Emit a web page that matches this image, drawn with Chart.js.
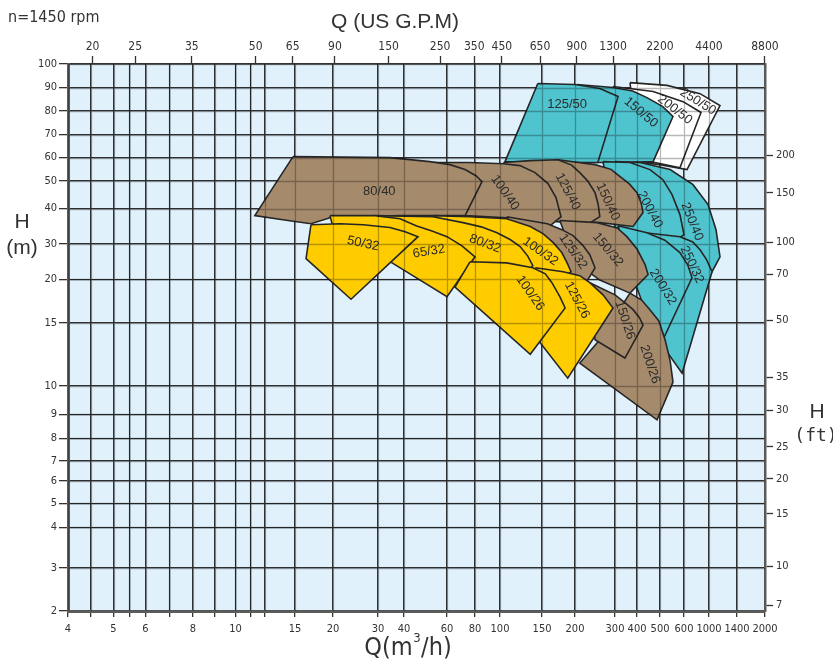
<!DOCTYPE html>
<html>
<head>
<meta charset="utf-8">
<title>Pump selection chart n=1450 rpm</title>
<script src="https://cdn.jsdelivr.net/npm/chart.js@4.4.1/dist/chart.umd.min.js"></script>
<style>
  html, body { margin: 0; padding: 0; background: #fff; }
  #wrap { width: 833px; height: 662px; }
</style>
</head>
<body>
<div id="wrap"><canvas id="chartPump" width="833" height="662"></canvas></div>
<script>
// Q axis (m3/h): grid stops of the printed paper and where each sits along the axis (0..1)
var qStops   = [4, 4.5, 5, 5.5, 6, 7, 8, 9, 10, 11, 12, 15, 20, 30, 40, 60, 80, 100, 150, 200, 300, 400, 500, 600, 1000, 1400, 2000];
var qStopPos = [0, .0324, .0653, .0882, .1112, .1456, .1793, .2109, .2403, .2618, .2826, .3257, .3802, .4448, .4821, .5438, .5839, .6198, .6801, .7274, .7848, .8164, .8494, .8838, .9197, .9598, 1];
var qLabels  = [4, 5, 6, 8, 10, 15, 20, 30, 40, 60, 80, 100, 150, 200, 300, 400, 500, 600, 1000, 1400, 2000];
var gpmLabels = [20, 25, 35, 50, 65, 90, 150, 250, 350, 450, 650, 900, 1300, 2200, 4400, 8800];

// H axis (m)
var hStops   = [2, 3, 4, 5, 6, 7, 8, 9, 10, 15, 20, 30, 40, 50, 60, 70, 80, 90, 100];
var hStopPos = [0, .0787, .1528, .1967, .2379, .2745, .3157, .3596, .4117, .5270, .6066, .6715, .7356, .7859, .8289, .8710, .9140, .9570, 1];
var ftLabels = [7, 10, 15, 20, 25, 30, 35, 50, 70, 100, 150, 200];

var GPM_PER_M3H = 4.4029;
var FT_PER_M = 3.2808;

// pump sizes, back to front
var models = ['250/50', '200/50', '150/50', '125/50',
              '250/40', '200/40', '150/40', '125/40', '100/40', '80/40',
              '250/32', '200/32', '150/32', '125/32', '100/32', '80/32', '65/32', '50/32',
              '200/26', '150/26', '125/26', '100/26'];
var family = ['w', 'w', 't', 't',
              't', 't', 'b', 'b', 'b', 'b',
              't', 't', 'b', 'b', 'y', 'y', 'y', 'y',
              'b', 'b', 'y', 'y'];

// working area of each pump, [Q m3/h, H m]
var outlines = [
  [[368,92.1],[529,90.9],[856,87.4],[1157,82.3],[648,54.9],[500,57],[413,57.9]],
  [[295,90.4],[470,88.3],[596,84],[872,79.4],[583,55.7],[478,57.9],[345,58.3]],
  [[205,91.3],[295,90],[380,88.5],[443,85.7],[510,82],[554,77.7],[470,58.3],[323,57.9],[237,57.9]],
  [[145,91.7],[200,91.3],[262,89.6],[314,86.2],[257,57.9],[162,57.9],[106,58.3]],
  [[300,58.3],[413,57.9],[542,54.9],[744,48.7],[984,41.5],[1100,34],[1157,26.3],[1043,22.1],[856,18.8],[583,29.7],[456,33.4],[345,35.4]],
  [[270,58.3],[368,57.9],[456,54.9],[512,50.6],[550,45.1],[583,38.3],[600,32.6],[521,28.9],[413,32.6],[300,34.6]],
  [[174,59.1],[250,57],[290,55],[323,51.9],[365,49],[400,45.8],[418,42],[426,38.9],[382,34.9],[262,36],[212,36.3]],
  [[104,57.9],[136,58.7],[174,59.1],[195,56.8],[212,53.6],[232,50],[250,45.8],[258,41.5],[262,37.7],[225,35.1],[174,36.3],[136,36.9]],
  [[53.5,57.9],[76,57.9],[104,57.4],[123.8,56.6],[141.7,53.6],[159,49.1],[171.2,44],[178.8,37.7],[162,35.1],[108,37.4],[73,38],[59,45.1]],
  [[14.8,60.4],[34.6,60],[52,58.3],[62.1,57],[72.9,54.9],[80.8,52.3],[85.6,49.8],[72.9,38],[38.5,38],[19.6,37.4],[17.1,35.7],[14.3,36.6],[11.3,38]],
  [[435,33.1],[583,32],[740,30.5],[856,28.3],[960,25.5],[1043,22.1],[592,11],[521,12.9],[478,17.6]],
  [[314,35.1],[443,33.1],[520,31],[583,27.5],[660,24],[728,20.4],[512,13.65],[435,16.5],[368,22.7]],
  [[177,36.6],[255,36],[310,34.5],[354,32],[400,28.5],[435,24.1],[448,21.3],[368,18.4],[262,19.9],[200,24.9]],
  [[108,37.7],[158,35.7],[180,34],[197,32.3],[220,29.5],[237,26.9],[250,23.2],[225,19.4],[177,19.9],[136,25.5]],
  [[53.5,38],[76,37.7],[108,37.1],[136,34.9],[152,32.8],[167,30.3],[180,27.5],[188,24.6],[194,22.1],[162,18.8],[124,19.9],[84,24.1]],
  [[29.3,38],[53.5,37.7],[71.4,36],[85,34.8],[97.6,33.1],[112,31.2],[124,29.2],[133,26.5],[139,23.8],[118,19.4],[84,18.8],[65.7,19.1],[47.4,28.3]],
  [[19.6,38],[29.3,38],[38.5,37.1],[45.6,35.1],[53,33.6],[60,32],[70.7,29.4],[80,26.3],[60,18],[35.4,24.6],[26,29.7],[20.4,32.6]],
  [[17.1,35.4],[21.6,35.7],[26.7,35.4],[34.6,34.6],[40.5,33.4],[46.5,32],[24,17.7],[16.45,25.8]],
  [[368,18.4],[420,17.6],[456,16.5],[495,15.2],[521,13.65],[542,12],[554,10.3],[487,8.77],[212,11.8],[262,13.65]],
  [[237,19.6],[300,18.2],[345,17.3],[382,16.5],[410,15.6],[426,14.8],[345,12.2],[250,13.65]],
  [[142,23.2],[182,22.1],[212,21],[237,19.6],[270,18.2],[295,16.7],[189,10.6],[148,13.4]],
  [[76.4,24.9],[108,24.6],[139,23.2],[155,21.5],[165,19.6],[177,18],[185,16.7],[136,12.5],[65.7,19.1]]
];

// where the size names sit, [Q, H], and their tilt in degrees
var labelAt = [
  [824,84],[562,80.6],[417,79.4],[188,82.8],
  [728,36.3],[456,39.7],[282,42.5],[189,46.2],[106,45.8],[30.5,46.2],
  [728,24.1],[512,19.1],[282,28.3],[197,27.8],[148,27.8],[88,30],[51.6,27.8],[26.7,30],
  [456,11.7],[345,15.3],[205,17.6],[136,18.4]
];
var labelAngle = [32, 38, 40, 0,
                  68, 62, 65, 62, 55, 0,
                  65, 58, 50, 55, 35, 20, -10, 12,
                  72, 72, 62, 55];

var colors = { b: '#a68a6c', y: '#ffcc00', t: '#4fc3ce', w: '#ffffff' };
var narrow = '"Liberation Sans Narrow", "DejaVu Sans Condensed", "Liberation Sans", sans-serif';

var axisTicks = {
  x: qStops.map(function (v) { return [v, qLabels.indexOf(v) >= 0 ? String(v) : '']; }),
  xTop: gpmLabels.map(function (g) { return [g / GPM_PER_M3H, String(g)]; }),
  y: hStops.map(function (v) { return [v, String(v)]; }),
  yRight: ftLabels.map(function (f) { return [f / FT_PER_M, String(f)]; })
};

// scale of the printed paper: piecewise between its grid stops
class StopScale extends Chart.Scale {
  stops() { return this.axis === 'x' ? [qStops, qStopPos] : [hStops, hStopPos]; }
  determineDataLimits() {
    var s = this.stops()[0];
    this.min = s[0];
    this.max = s[s.length - 1];
  }
  buildTicks() {
    return axisTicks[this.id].map(function (t) { return { value: t[0], text: t[1] }; });
  }
  generateTickLabels(ticks) {
    ticks.forEach(function (t) { t.label = t.text; });
  }
  getLabelForValue(v) { return String(v); }
  getPixelForValue(v) {
    if (v === null || v === undefined || isNaN(v)) return NaN;
    var sp = this.stops(), s = sp[0], p = sp[1];
    var i = 1;
    while (i < s.length - 1 && s[i] < v) i++;
    var f = p[i - 1] + (v - s[i - 1]) / (s[i] - s[i - 1]) * (p[i] - p[i - 1]);
    return this.getPixelForDecimal(f);
  }
  getValueForPixel(px) {
    var sp = this.stops(), s = sp[0], p = sp[1];
    var f = this.getDecimalForPixel(px);
    var i = 1;
    while (i < p.length - 1 && p[i] < f) i++;
    return s[i - 1] + (f - p[i - 1]) / (p[i] - p[i - 1]) * (s[i] - s[i - 1]);
  }
}
StopScale.id = 'stops';
StopScale.defaults = {};
Chart.register(StopScale);

var paper = {
  id: 'paper',
  beforeDraw: function (chart) {
    var a = chart.chartArea, ctx = chart.ctx;
    ctx.save();
    ctx.fillStyle = '#e0f1fc';
    ctx.fillRect(a.left, a.top, a.right - a.left, a.bottom - a.top);
    ctx.restore();
  },
  afterDatasetsDraw: function (chart) {
    var a = chart.chartArea, ctx = chart.ctx, sx = chart.scales.x, sy = chart.scales.y;
    ctx.save();
    ctx.beginPath();
    ctx.rect(a.left, a.top, a.right - a.left, a.bottom - a.top);
    ctx.clip();
    // grid shows through the coloured areas
    ctx.strokeStyle = 'rgba(0,0,0,0.28)';
    ctx.lineWidth = 1.3;
    ctx.beginPath();
    sx.ticks.forEach(function (t, i) {
      var px = Math.round(sx.getPixelForTick(i)) + 0.5;
      ctx.moveTo(px, a.top); ctx.lineTo(px, a.bottom);
    });
    sy.ticks.forEach(function (t, i) {
      var py = Math.round(sy.getPixelForTick(i)) + 0.5;
      ctx.moveTo(a.left, py); ctx.lineTo(a.right, py);
    });
    ctx.stroke();
    // pump size names
    ctx.fillStyle = '#2b2b2b';
    ctx.font = '13px "Liberation Sans", Arial, sans-serif';
    ctx.textAlign = 'center';
    ctx.textBaseline = 'middle';
    models.forEach(function (m, i) {
      var px = sx.getPixelForValue(labelAt[i][0]);
      var py = sy.getPixelForValue(labelAt[i][1]);
      ctx.save();
      ctx.translate(px, py);
      ctx.rotate(labelAngle[i] * Math.PI / 180);
      ctx.fillText(m, 0, 0);
      ctx.restore();
    });
    ctx.restore();
  },
  afterDraw: function (chart) {
    var ctx = chart.ctx;
    ctx.save();
    ctx.fillStyle = '#333';
    ctx.textAlign = 'left';
    ctx.textBaseline = 'alphabetic';
    ctx.font = '16px ' + narrow;
    ctx.fillText('n=1450 rpm', 8, 22);
    ctx.textAlign = 'center';
    ctx.textBaseline = 'middle';
    ctx.font = '21px "Liberation Sans", Arial, sans-serif';
    ctx.fillText('Q (US G.P.M)', 395, 22);
    ctx.fillText('H', 22, 222);
    ctx.fillText('(m)', 22, 248);
    ctx.fillText('H', 817, 412);
    ctx.font = '18px "DejaVu Sans Mono", monospace';
    ctx.fillText('(ft)', 816, 436);
    // Q(m3/h) with a raised 3
    ctx.textAlign = 'left';
    ctx.font = '25px ' + narrow;
    var a = 'Q(m', b = '/h)';
    ctx.font = '25px ' + narrow;
    var wa = ctx.measureText(a).width, wb = ctx.measureText(b).width;
    ctx.font = '13px ' + narrow;
    var w3 = ctx.measureText('3').width + 1;
    var x0 = 408 - (wa + w3 + wb) / 2;
    ctx.font = '25px ' + narrow;
    ctx.fillText(a, x0, 648);
    ctx.fillText(b, x0 + wa + w3, 648);
    ctx.font = '13px ' + narrow;
    ctx.fillText('3', x0 + wa + 0.5, 639);
    ctx.restore();
  }
};

var tickFont = { family: narrow, size: 11 };

var datasets = models.map(function (m, i) {
  var pts = outlines[i].map(function (p) { return { x: p[0], y: p[1] }; });
  pts.push({ x: outlines[i][0][0], y: outlines[i][0][1] });
  return {
    label: m,
    data: pts,
    order: models.length - i,
    fill: 'shape',
    backgroundColor: colors[family[i]],
    borderColor: '#262626',
    borderWidth: 1.6,
    pointRadius: 0,
    pointHitRadius: 0,
    tension: 0
  };
});

var ctx = document.getElementById('chartPump').getContext('2d');
var chart = new Chart(ctx, {
  type: 'line',
  data: { datasets: datasets },
  plugins: [paper],
  options: {
    responsive: false,
    animation: false,
    events: [],
    layout: { padding: 0 },
    plugins: { legend: { display: false }, tooltip: { enabled: false }, title: { display: false } },
    scales: {
      x: {
        type: 'stops', axis: 'x', position: 'bottom',
        grid: { color: '#333', lineWidth: 1.3, tickLength: 6, tickColor: '#333', tickWidth: 1.3 },
        border: { color: '#5c5c5c', width: 3 },
        ticks: { font: tickFont, color: '#333', padding: 6, autoSkip: false, maxRotation: 0, minRotation: 0 },
        afterFit: function (s) { s.height = 51; }
      },
      xTop: {
        type: 'stops', axis: 'x', position: 'top',
        grid: { drawOnChartArea: false, tickLength: 8, tickColor: '#333', tickWidth: 1.3 },
        border: { color: '#333', width: 1.5 },
        ticks: { font: { family: narrow, size: 12 }, color: '#333', padding: 2, autoSkip: false, maxRotation: 0, minRotation: 0 },
        afterFit: function (s) { s.height = 64; }
      },
      y: {
        type: 'stops', axis: 'y', position: 'left',
        grid: { color: '#333', lineWidth: 1.3, tickLength: 9, tickColor: '#333', tickWidth: 1.3 },
        border: { color: '#5c5c5c', width: 3 },
        ticks: { font: tickFont, color: '#333', padding: 2, autoSkip: false },
        afterFit: function (s) { s.width = 68; }
      },
      yRight: {
        type: 'stops', axis: 'y', position: 'right',
        grid: { drawOnChartArea: false, tickLength: 8, tickColor: '#333', tickWidth: 1.3 },
        border: { color: '#5c5c5c', width: 2.5 },
        ticks: { font: tickFont, color: '#333', padding: 3, autoSkip: false },
        afterFit: function (s) { s.width = 68; }
      }
    }
  }
});
</script>
</body>
</html>
